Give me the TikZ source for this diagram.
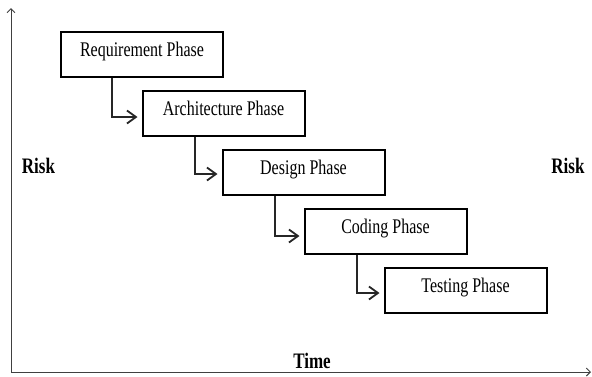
\documentclass[tikz,border=0pt]{standalone}
\usepackage{fontspec}
\setmainfont{Liberation Serif}
\usetikzlibrary{arrows.meta}
\newcommand{\tallt}[1]{\scalebox{1}[1.3]{#1}}
\begin{document}
\begin{tikzpicture}[x=1pt,y=-1pt,
  phasebox/.style={draw=black,line width=2pt,minimum width=162pt,minimum height=45pt,inner sep=0pt,text height=14pt,text depth=10pt,font=\fontsize{16}{18}\selectfont},
  conn/.style={draw=black!85,line width=2pt,shorten >=4pt,-{Straight Barb[length=9pt,width=13pt,line width=1.8pt]}},
  axis/.style={draw=black!75,line width=1pt,-{Straight Barb[length=4pt,width=8pt]}},
  axlabel/.style={font=\fontsize{17}{20}\selectfont\bfseries,inner sep=0pt}]
\useasboundingbox (0,0) rectangle (592,376);
\node[phasebox] (req) at (142,54.5) {\tallt{Requirement Phase}};
\node[phasebox] (arc) at (223.5,113) {\tallt{Architecture Phase}};
\node[phasebox] (des) at (303.5,172.5) {\tallt{Design Phase}};
\node[phasebox] (cod) at (385.5,231.5) {\tallt{Coding Phase}};
\node[phasebox] (tst) at (465.5,290) {\tallt{Testing Phase}};
\coordinate (o) at (11,372);
\coordinate (ytop) at (11,8);
\coordinate (xend) at (591,372);
\draw[axis] (o) -- (ytop);
\draw[axis] (o) -- (xend);
\draw[conn] (req.south west) ++(52,0) |- (arc.west |- 0,117);
\draw[conn] (arc.south west) ++(53,0) |- (des.west |- 0,174);
\draw[conn] (des.south west) ++(53,0) |- (cod.west |- 0,236);
\draw[conn] (cod.south west) ++(53,0) |- (tst.west |- 0,293);
\node[axlabel] (riskl) at (38.5,166) {\tallt{Risk}};
\node[axlabel] (riskr) at (568,166) {\tallt{Risk}};
\node[axlabel] (time) at (312,361) {\tallt{Time}};
\end{tikzpicture}
\end{document}
